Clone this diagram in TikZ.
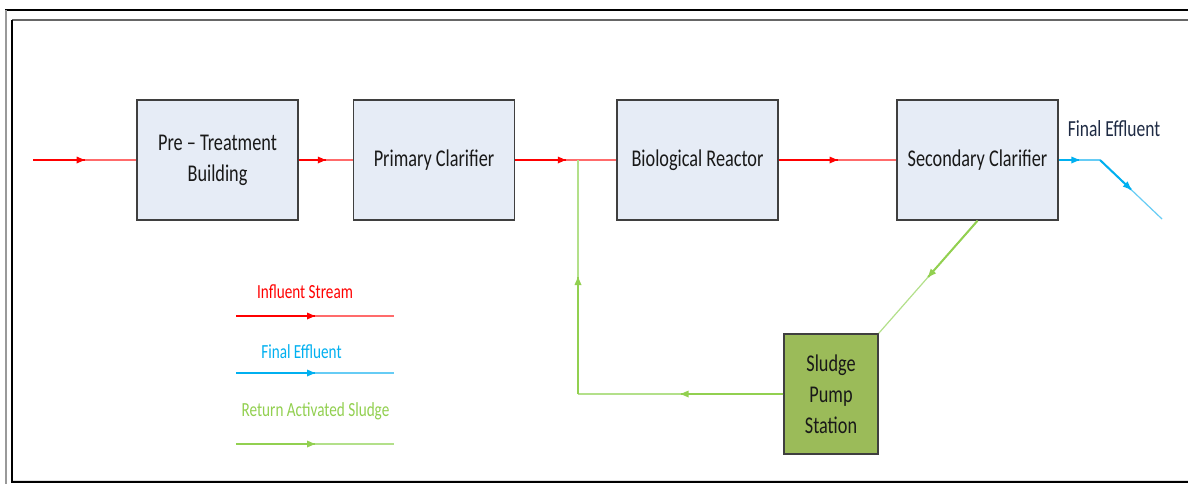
\documentclass[tikz,border=0pt]{standalone}
\usepackage{fontspec}
\setmainfont{Carlito}[FakeStretch=0.76]
\usetikzlibrary{calc}
\definecolor{boxfill}{HTML}{E6ECF6}
\definecolor{boxline}{HTML}{3F3F3F}
\definecolor{pumpfill}{HTML}{9BBB59}
\definecolor{redA}{HTML}{FF0000}
\definecolor{redB}{HTML}{FF6B6B}
\definecolor{blueA}{HTML}{00B0F0}
\definecolor{blueB}{HTML}{66CCF5}
\definecolor{greenA}{HTML}{92D050}
\definecolor{greenB}{HTML}{B3E08A}
\definecolor{navy}{HTML}{1F2B44}
\tikzset{
  unitbox/.style={draw=boxline, line width=1.5pt, fill=boxfill, minimum width=161pt,
    minimum height=120pt, align=center, inner sep=0pt, text=black!90,
    font=\fontsize{24}{31}\selectfont},
  pumpbox/.style={unitbox, fill=pumpfill, minimum width=94pt},
  legendtext/.style={font=\fontsize{20}{24}\selectfont, inner sep=0pt},
}
% a connector with a strong first half, a pale second half and its arrowhead at the middle
\newcommand{\flowseg}[4]{%
  \draw[#4, line width=1.2pt] (#1) -- (#2);
  \draw[#3, line width=2pt] (#1) -- ($(#1)!0.5!(#2)$);
  \coordinate (fsMid) at ($(#1)!0.5!(#2)$);
  \coordinate (fsBase) at ($(fsMid)!8pt!(#1)$);
  \fill[#3] ($(fsBase)!3.5pt!90:(fsMid)$) -- (fsMid)
    -- ($(fsBase)!3.5pt!-90:(fsMid)$) -- cycle;
}
\begin{document}
\begin{tikzpicture}[x=1pt,y=-1pt]
\useasboundingbox (0,0) rectangle (1188,484);
\fill[white] (0,0) rectangle (1188,484);

% page frame
\draw[black, line width=1.3pt] (5,10) -- (1188,10);
\draw[black!40, line width=2.5pt] (6,10) -- (6,484);
\draw[black!60, line width=1.5pt] (12,20) -- (1188,20);
\draw[black!12, line width=1pt] (12,480.5) -- (1188,480.5);
\draw[black, line width=1.3pt] (12,20) -- (12,482) -- (1188,482);

% process units
\node[unitbox] (pre)  at (217.5,160) {\raisebox{-2pt}{\parbox{150pt}{\centering Pre -- Treatment\\Building}}};
\node[unitbox] (prim) at (434,160)   {\raisebox{-2pt}{Primary Clarifier}};
\node[unitbox] (bio)  at (697.5,160) {\raisebox{-2pt}{Biological Reactor}};
\node[unitbox] (sec)  at (977.5,160) {\raisebox{-2pt}{Secondary Clarifier}};
\node[pumpbox] (pump) at (831,394)   {Sludge\\Pump\\Station};

\node[font=\fontsize{23}{27}\selectfont, text=navy, inner sep=0pt] (felab) at (1114,129) {Final Effluent};

% connector end points
\coordinate (in)  at (33,160);
\coordinate (j)   at (578,160);
\coordinate (j2)  at (578,394);
\coordinate (c1)  at (1100,160);
\coordinate (out) at (1162,219);

% influent stream
\flowseg{in}{pre.west}{redA}{redB}
\flowseg{pre.east}{prim.west}{redA}{redB}
\flowseg{prim.east}{bio.west}{redA}{redB}
\flowseg{bio.east}{sec.west}{redA}{redB}

% final effluent
\flowseg{sec.east}{c1}{blueA}{blueB}
\flowseg{c1}{out}{blueA}{blueB}

% return activated sludge
\flowseg{sec.south}{pump.north east}{greenA}{greenB}
\flowseg{pump.west}{j2}{greenA}{greenB}
\flowseg{j2}{j}{greenA}{greenB}

% legend
\node[legendtext, text=redA]   (lg1) at (305,292) {Influent Stream};
\node[legendtext, text=blueA]  (lg2) at (301.5,352) {Final Effluent};
\node[legendtext, text=greenA] (lg3) at (315.5,411) {Return Activated Sludge};
\coordinate (l1a) at (236,316); \coordinate (l1b) at (394,316);
\coordinate (l2a) at (236,373); \coordinate (l2b) at (394,373);
\coordinate (l3a) at (236,444); \coordinate (l3b) at (394,444);
\flowseg{l1a}{l1b}{redA}{redB}
\flowseg{l2a}{l2b}{blueA}{blueB}
\flowseg{l3a}{l3b}{greenA}{greenB}
\end{tikzpicture}
\end{document}
